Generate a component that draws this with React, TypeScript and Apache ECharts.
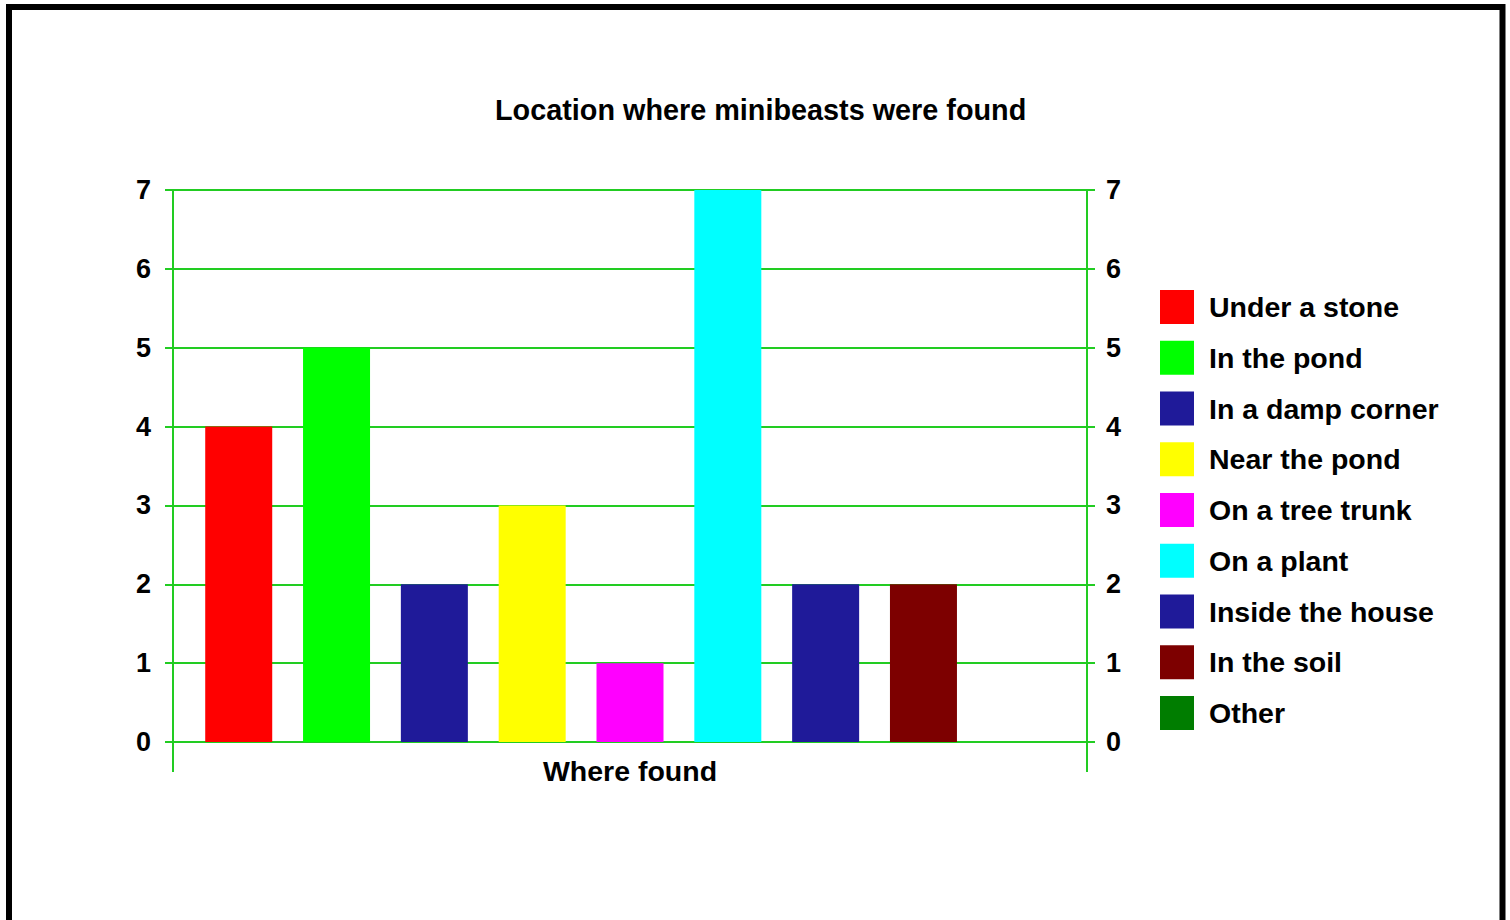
import React, { useEffect, useRef } from "react";
import * as echarts from "echarts";

const categories = ["Where found"];
const seriesNames = [
  "Under a stone",
  "In the pond",
  "In a damp corner",
  "Near the pond",
  "On a tree trunk",
  "On a plant",
  "Inside the house",
  "In the soil",
  "Other",
];
const seriesValues = [4, 5, 2, 3, 1, 7, 2, 2, 0];
const seriesColors = [
  "#ff0000",
  "#00ff00",
  "#1f1a99",
  "#ffff00",
  "#ff00ff",
  "#00ffff",
  "#1f1a99",
  "#7d0000",
  "#007d00",
];
const yTicks = [0, 1, 2, 3, 4, 5, 6, 7];

const FONT = "'Liberation Sans', Arial, sans-serif";
const GREEN = "#22cc22";

export default function App() {
  const ref = useRef<HTMLDivElement>(null);
  useEffect(() => {
    if (!ref.current) return;
    const chart = echarts.init(ref.current, null, { renderer: "svg" });
    const yAxisBase = (position: "left" | "right", margin: number) => ({
      type: "value" as const,
      position,
      min: yTicks[0],
      max: yTicks[yTicks.length - 1],
      interval: 1,
      axisLine: { show: true, lineStyle: { color: GREEN, width: 2 } },
      axisTick: { show: true, length: 8, lineStyle: { color: GREEN, width: 2 } },
      splitLine: { show: position === "left", lineStyle: { color: GREEN, width: 2 } },
      axisLabel: {
        margin,
        color: "#000",
        fontFamily: FONT,
        fontWeight: "bold" as const,
        fontSize: 27,
      },
    });
    chart.setOption({
      animation: false,
      backgroundColor: "#ffffff",
      title: {
        text: "Location where minibeasts were found",
        left: 495,
        top: 95,
        padding: 0,
        textStyle: {
          fontFamily: FONT,
          fontWeight: "bold",
          fontSize: 28.8,
          color: "#000",
        },
      },
      graphic: [
        {
          type: "rect",
          shape: { x: 9, y: 7, width: 1493.5, height: 1000 },
          style: { fill: "none", stroke: "#000", lineWidth: 6 },
          z: 100,
        },
      ],
      legend: {
        orient: "vertical",
        left: 1160,
        top: 290,
        padding: 0,
        itemWidth: 34,
        itemHeight: 34,
        itemGap: 16.75,
        icon: "rect",
        data: seriesNames,
        textStyle: {
          fontFamily: FONT,
          fontWeight: "bold",
          fontSize: 28.5,
          color: "#000",
          lineHeight: 34,
          padding: [0, 0, 0, 10],
        },
      },
      grid: { left: 173, right: 423, top: 190, bottom: 178, containLabel: false },
      xAxis: {
        type: "category",
        data: categories,
        boundaryGap: true,
        axisLine: { show: true, lineStyle: { color: GREEN, width: 2 } },
        axisTick: { show: true, length: 30, alignWithLabel: false, lineStyle: { color: GREEN, width: 2 } },
        axisLabel: {
          margin: 14,
          color: "#000",
          fontFamily: FONT,
          fontWeight: "bold",
          fontSize: 28.5,
        },
      },
      yAxis: [yAxisBase("left", 22), yAxisBase("right", 19)],
      series: seriesNames.map((name, i) => ({
        name,
        type: "bar",
        yAxisIndex: 0,
        data: [seriesValues[i]],
        barWidth: 67,
        barGap: "46%",
        itemStyle: { color: seriesColors[i] },
      })),
    });
    return () => chart.dispose();
  }, []);
  return (
    <div
      ref={ref}
      style={{ position: "fixed", left: 0, top: 0, width: 1510, height: 920 }}
    />
  );
}
